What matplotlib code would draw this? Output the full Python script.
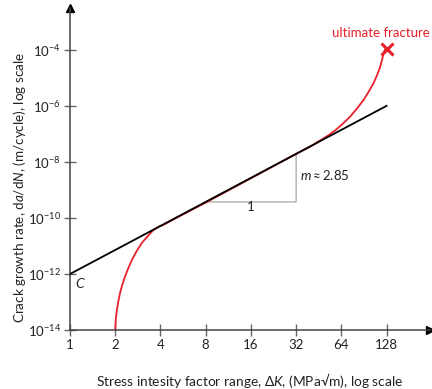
import matplotlib
matplotlib.use("Agg")
import matplotlib.pyplot as plt
import numpy as np

plt.rcParams["font.family"] = ["Lato", "DejaVu Sans"]
plt.rcParams["mathtext.fontset"] = "custom"
plt.rcParams["mathtext.rm"] = "Lato"
plt.rcParams["mathtext.it"] = "Lato:italic"

# Paris-law fit: da/dN = C * dK^m
line_dk = [1, 128]
line_rate = [1e-12, 1e-12 * 128 ** 2.85]

red_dk = [2.0, 2.02, 2.05, 2.1, 2.15, 2.23, 2.32, 2.45, 2.58, 2.78, 3.0, 3.3,
          3.59, 3.9, 4.2, 5.0, 8.0, 16, 32, 40, 46.2, 52, 58.2, 65, 73.2, 81,
          89.8, 97, 104.7, 111, 116, 119.5, 122, 125]
red_log_rate = [-14.0, -13.6, -13.29, -12.97, -12.69, -12.38, -12.10, -11.78,
                -11.50, -11.18, -10.90, -10.64, -10.43, -10.31, -10.24, -10.02,
                -9.45, -8.58, -7.71, -7.44, -7.23, -7.06, -6.87, -6.65, -6.38,
                -6.10, -5.79, -5.50, -5.19, -4.88, -4.60, -4.35, -4.12, -3.98]
fracture_pt = (128, 1.1e-4)

# slope triangle corners
tri_dk = [8, 32, 32]
tri_rate = [1e-12 * 8 ** 2.85, 1e-12 * 8 ** 2.85, 1e-12 * 32 ** 2.85]

xticks = [1, 2, 4, 8, 16, 32, 64, 128]
xticklabels = ["1", "2", "4", "8", "16", "32", "64", "128"]
yticks = [1e-14, 1e-12, 1e-10, 1e-8, 1e-6, 1e-4]
yticklabels = [r"$10^{-14}$", r"$10^{-12}$", r"$10^{-10}$", r"$10^{-8}$",
               r"$10^{-6}$", r"$10^{-4}$"]

RED = "#e8202a"
AXC = "#444444"
TXT = "#222222"

fig = plt.figure(figsize=(4.32, 3.89), dpi=100)
ax = fig.add_axes([70 / 432, 59 / 389, 360 / 432, 322 / 389])
ax.set_xscale("log")
ax.set_yscale("log")
ax.set_xlim(1, 2 ** 7.96)
ax.set_ylim(1e-14, 10 ** -2.5)

for side in ("top", "right"):
    ax.spines[side].set_visible(False)
for side in ("left", "bottom"):
    ax.spines[side].set_color(AXC)
    ax.spines[side].set_linewidth(1.1)
ax.plot([0], [1], marker="^", color="black", ms=6, transform=ax.transAxes, clip_on=False)
ax.plot([1], [0], marker=">", color="black", ms=6, transform=ax.transAxes, clip_on=False)

ax.set_xticks(xticks)
ax.set_xticklabels(xticklabels)
ax.set_yticks(yticks)
ax.set_yticklabels(yticklabels)
ax.minorticks_off()
ax.tick_params(direction="inout", length=8.5, width=1.0, color="#666666",
               labelsize=9.5, labelcolor=TXT, pad=2)

# triangle
ax.plot(tri_dk + [tri_dk[0]], tri_rate + [tri_rate[0]], color="#b0b0b0", lw=1.0, zorder=1)

ax.plot(red_dk, 10.0 ** np.array(red_log_rate), color=RED, lw=1.3, zorder=2)
ax.plot(line_dk, line_rate, color="black", lw=1.3, zorder=3)
ax.plot(*fracture_pt, marker="x", color=RED, ms=9, mew=2.2, zorder=4, clip_on=False)

ax.text(1.08, 7e-13, "C", fontstyle="italic", fontsize=10, va="top", ha="left", color=TXT)
ax.text(16, 10 ** -9.62, "1", fontsize=9.5, ha="center", va="center", color=TXT)
ax.text(34, 10 ** -8.46, r"$m \approx 2.85$", fontsize=9.5, ha="left", va="center", color=TXT)
ax.text(118, 10 ** -3.4, "ultimate fracture", fontsize=9.5, ha="center", va="center", color=RED,
        clip_on=False)

ax.set_xlabel("Stress intesity factor range, Δ$K$, (MPa√m), log scale",
              fontsize=9.9, color=TXT)
ax.xaxis.set_label_coords(0.5, -0.128)
ax.set_ylabel("Crack growth rate, d$a$/d$N$, (m/cycle), log scale",
              fontsize=9.7, color=TXT)
ax.yaxis.set_label_coords(-0.118, 0.441)

fig.savefig("out.png", dpi=100)
